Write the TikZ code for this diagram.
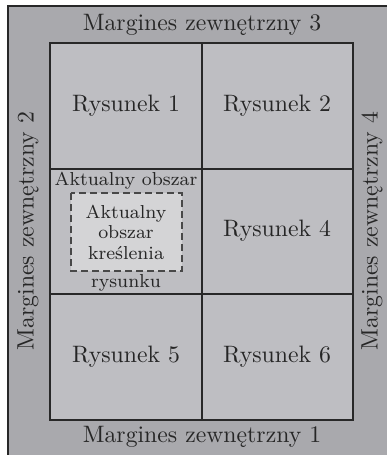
\documentclass[tikz,border=0pt]{standalone}
\definecolor{outergray}{RGB}{169,169,173}
\definecolor{cellgray}{RGB}{190,190,194}
\definecolor{innergray}{RGB}{212,212,214}
\definecolor{linegray}{RGB}{40,40,40}
\begin{document}
\begin{tikzpicture}[x=0.4pt,y=-0.4pt,
  every node/.style={font=\fontsize{9.5}{8.2}\selectfont, text=black!85, inner sep=0pt},
  small/.style={font=\fontsize{7.5}{8.2}\selectfont},
  gridline/.style={draw=linegray, line width=0.6pt},
  dashbox/.style={draw=linegray!85, line width=0.8pt, dash pattern=on 2.8pt off 1.6pt, fill=innergray}]
\useasboundingbox (0,0) rectangle (387,455);
% outer sheet
\fill[outergray] (8,6) rectangle (387,455);
\draw[linegray, line width=0.8pt] (8,455) -- (8,6) -- (387,6);
% cells
\fill[cellgray] (50,43) rectangle (353,420);
\draw[gridline] (50,43) rectangle (353,420);
\draw[gridline] (202,43) -- (202,420);
\draw[gridline] (50,169) -- (353,169);
\draw[gridline] (50,294) -- (353,294);
% dashed current area
\draw[dashbox] (71,193) rectangle (182,271);
% texts
\node (m3) at (202,25) {Margines zewnętrzny 3};
\node (m1) at (202,437) {Margines zewnętrzny 1};
\node[rotate=90] (m2) at (28,231) {Margines zewnętrzny 2};
\node[rotate=90] (m4) at (372,231) {Margines zewnętrzny 4};
\node (r1) at (126,106) {Rysunek 1};
\node (r2) at (277,106) {Rysunek 2};
\node (r4) at (277,231) {Rysunek 4};
\node (r5) at (126,357) {Rysunek 5};
\node (r6) at (277,357) {Rysunek 6};
\node[small] (a1) at (126,181) {Aktualny obszar};
\node[small] (a2) at (126,283) {rysunku};
\node[small, align=center] (k) at (126,232) {Aktualny\\obszar\\kreślenia};
\end{tikzpicture}
\end{document}
